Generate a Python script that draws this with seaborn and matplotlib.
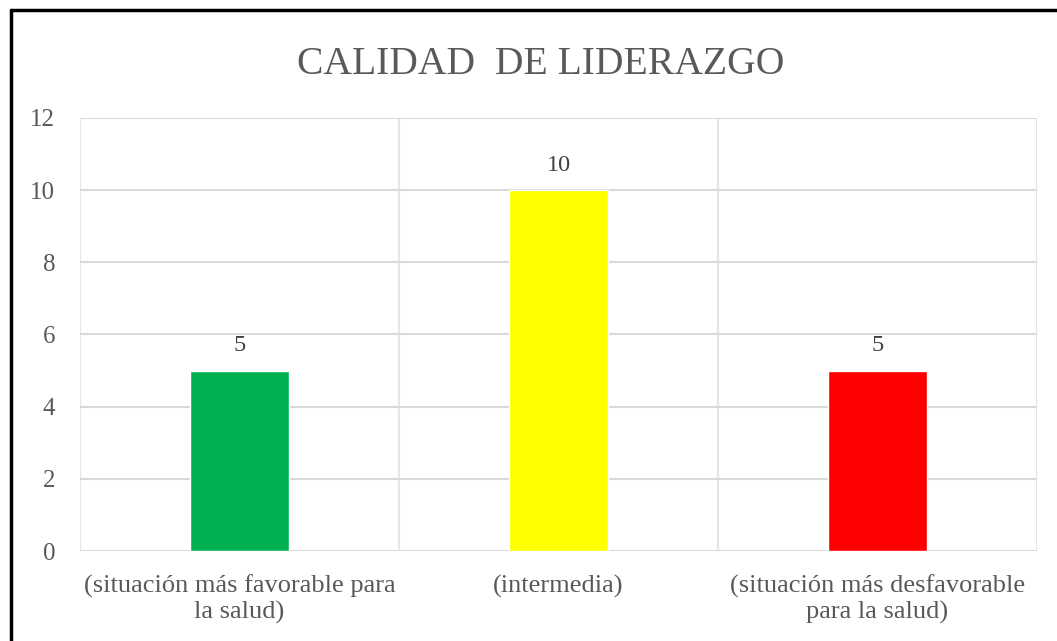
import pandas as pd
import seaborn as sns
import matplotlib.pyplot as plt
from matplotlib.lines import Line2D

sns.set_theme(style='white')
plt.rcParams['font.family'] = ['Liberation Serif', 'DejaVu Serif']

categorias = ['(situación más favorable para\nla salud)',
              '(intermedia)',
              '(situación más desfavorable\npara la salud)']
valores = [5, 10, 5]
colores = ['#00B050', '#FFFF00', '#FF0000']

df = pd.DataFrame({'categoria': categorias, 'valor': valores})

gris = '#595959'
fig = plt.figure(figsize=(10.57, 6.41), dpi=100)
ax = fig.add_axes([0.0757, 0.1404, 0.9053, 0.6756])

sns.barplot(data=df, x='categoria', y='valor', hue='categoria',
            palette=colores, width=0.313, legend=False, ax=ax, saturation=1)

# etiquetas de datos
for i, v in enumerate(valores):
    ax.text(i, v + 0.4, str(v), ha='center', va='bottom', fontsize=17.5, color='#404040')

ax.set_ylim(0, 12)
ax.set_xlim(-0.5, 2.5)
ax.set_yticks(range(0, 13, 2))
ax.set_xticks([-0.5, 0.5, 1.5, 2.5], minor=True)
ax.grid(axis='y', which='major', color='#D9D9D9', linewidth=1.5)
ax.grid(axis='x', which='minor', color='#E6E6E6', linewidth=1.5)
ax.set_axisbelow(True)
for s in ax.spines.values():
    s.set_visible(False)
ax.tick_params(axis='y', which='both', length=0, labelsize=18, labelcolor=gris, pad=18)
ax.tick_params(axis='x', which='both', length=0, labelsize=19, labelcolor=gris, pad=17)
for lbl in ax.get_xticklabels():
    lbl.set_linespacing(1.15)
ax.set_xlabel('')
ax.set_ylabel('')

fig.text(0.512, 0.9, 'CALIDAD  DE LIDERAZGO', ha='center', va='center',
         fontsize=28.5, color=gris)

# marco del gráfico
fig.add_artist(Line2D([11 / 1057, 11 / 1057], [0, 631 / 641], color='black', lw=2.5))
fig.add_artist(Line2D([11 / 1057, 1], [631 / 641, 631 / 641], color='black', lw=2.5))

fig.savefig('out.png', dpi=100)
